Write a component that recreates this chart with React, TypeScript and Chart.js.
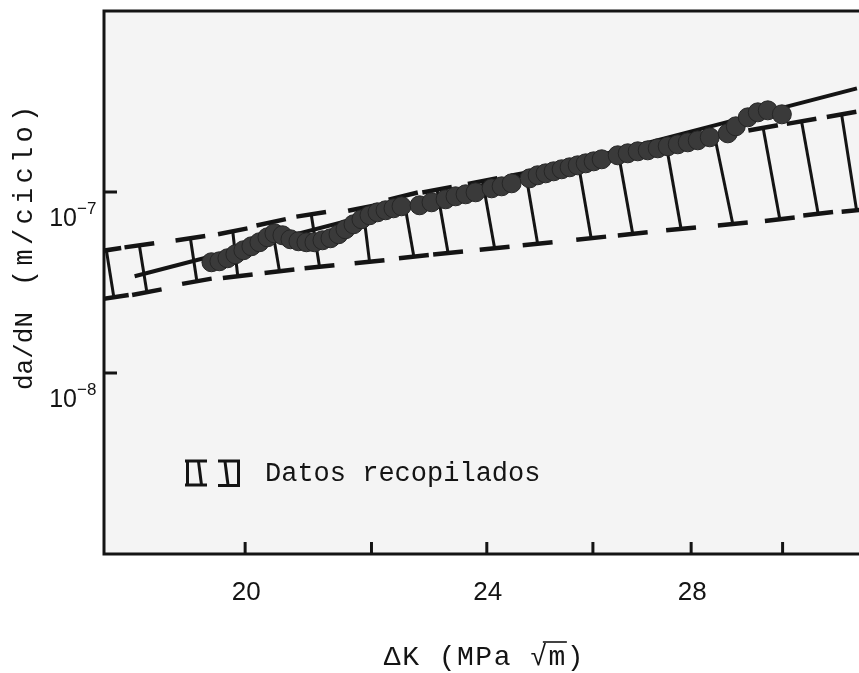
import React, { useEffect, useRef } from 'react';
import { Chart, registerables } from 'chart.js';

Chart.register(...registerables);

// ---- data ----
const dotK = [
  19.498, 19.616, 19.735, 19.854, 19.974, 20.095, 20.217, 20.34, 20.447, 20.571,
  20.696, 20.821, 20.947, 21.074, 21.202, 21.33, 21.46, 21.573, 21.704, 21.835,
  21.968, 22.101, 22.235, 22.369, 22.505, 22.813, 23.02, 23.265, 23.441, 23.619,
  23.798, 24.087, 24.27, 24.454, 24.788, 24.938, 25.089, 25.241, 25.394, 25.548,
  25.703, 25.859, 26.015, 26.173, 26.491, 26.692, 26.894, 27.098, 27.303, 27.51,
  27.719, 27.929, 28.14, 28.396, 28.785, 28.959, 29.223, 29.444, 29.667, 29.983,
];
const dotRate = [
  4.091e-8, 4.143e-8, 4.304e-8, 4.529e-8, 4.765e-8, 5.014e-8, 5.276e-8, 5.622e-8, 5.915e-8, 5.767e-8,
  5.481e-8, 5.343e-8, 5.276e-8, 5.276e-8, 5.411e-8, 5.551e-8, 5.841e-8, 6.224e-8, 6.632e-8, 7.068e-8,
  7.436e-8, 7.725e-8, 7.924e-8, 8.129e-8, 8.338e-8, 8.444e-8, 8.773e-8, 9.114e-8, 9.468e-8, 9.712e-8,
  9.962e-8, 1.048e-7, 1.075e-7, 1.117e-7, 1.19e-7, 1.237e-7, 1.268e-7, 1.301e-7, 1.335e-7, 1.369e-7,
  1.404e-7, 1.44e-7, 1.477e-7, 1.516e-7, 1.595e-7, 1.636e-7, 1.678e-7, 1.699e-7, 1.743e-7, 1.788e-7,
  1.834e-7, 1.881e-7, 1.93e-7, 2.005e-7, 2.109e-7, 2.306e-7, 2.585e-7, 2.755e-7, 2.826e-7, 2.686e-7,
];

const fitK = [18.4, 31.73];
const fitRate = [3.424e-8, 3.737e-7];

// "Datos recopilados": scatter band, top end and bottom end of each bar
const barTopK = [
  18.012, 18.466, 19.191, 19.814, 20.396, 21.022, 21.857, 22.534, 23.116,
  23.924, 24.713, 25.713, 26.511, 27.483, 28.504, 29.562, 30.432, 31.365,
];
const barBottomK = [
  18.114, 18.571, 19.285, 19.889, 20.525, 21.154, 21.968, 22.715, 23.309,
  24.142, 24.938, 25.966, 26.793, 27.788, 28.894, 29.937, 30.816, 31.722,
];
const barHigh = [
  4.765e-8, 5.078e-8, 5.551e-8, 6.068e-8, 6.803e-8, 7.532e-8, 8.18e-8, 9.492e-8, 1.03e-7,
  1.149e-7, 1.275e-7, 1.448e-7, 1.595e-7, 1.79e-7, 2.012e-7, 2.262e-7, 2.457e-7, 2.686e-7,
];
const barLow = [
  2.622e-8, 2.794e-8, 3.213e-8, 3.424e-8, 3.649e-8, 3.863e-8, 4.117e-8, 4.393e-8, 4.599e-8,
  4.888e-8, 5.176e-8, 5.558e-8, 5.87e-8, 6.256e-8, 6.658e-8, 7.068e-8, 7.58e-8, 7.924e-8,
];

const xTicks = [20, 22, 24, 26, 28, 30];
const xTickLabels = [20, 24, 28];
const yTicks = [1e-7, 1e-8];
const yTickExponents = ['\u22127', '\u22128'];

const X_MIN = 17.98;
const X_MAX = 31.78;
const Y_MIN = 1e-9;
const Y_MAX = 1e-6;

const INK = '#141414';
const MONO = '"Liberation Mono", "DejaVu Sans Mono", monospace';
const SANS = '"Liberation Sans", Arial, sans-serif';

const BAR_START = 2;

const figurePlugin = {
  id: 'figurePlugin',
  beforeDraw(chart: any) {
    const { ctx, chartArea: ca, width, height } = chart;
    ctx.save();
    ctx.fillStyle = '#ffffff';
    ctx.fillRect(0, 0, width, height);
    ctx.fillStyle = '#f4f4f4';
    ctx.fillRect(ca.left, ca.top, ca.right - ca.left, ca.bottom - ca.top);
    ctx.restore();
  },
  beforeDatasetsDraw(chart: any) {
    const { ctx, chartArea: ca } = chart;
    const tops: any[] = [];
    const bots: any[] = [];
    for (let i = 0; i < barTopK.length; i++) {
      const meta = chart.getDatasetMeta(BAR_START + i);
      tops.push(meta.data[0]);
      bots.push(meta.data[1]);
    }
    ctx.save();
    ctx.beginPath();
    ctx.rect(ca.left, ca.top, ca.right - ca.left, ca.bottom - ca.top);
    ctx.clip();
    ctx.strokeStyle = INK;
    ctx.lineWidth = 4.5;
    const CAP = 15;
    const caps = (pts: any[]) => {
      pts.forEach((p, i) => {
        const a = pts[Math.max(0, i - 1)];
        const b = pts[Math.min(pts.length - 1, i + 1)];
        let dx = b.x - a.x;
        let dy = b.y - a.y;
        const len = Math.hypot(dx, dy) || 1;
        dx /= len;
        dy /= len;
        ctx.beginPath();
        ctx.moveTo(p.x - dx * CAP, p.y - dy * CAP);
        ctx.lineTo(p.x + dx * CAP, p.y + dy * CAP);
        ctx.stroke();
      });
    };
    caps(tops);
    caps(bots);
    ctx.restore();
  },
  afterDraw(chart: any) {
    const { ctx, chartArea: ca } = chart;
    const xs = chart.scales.x;
    const ys = chart.scales.y;
    ctx.save();
    ctx.strokeStyle = INK;
    ctx.fillStyle = INK;
    ctx.lineCap = 'butt';

    // frame: top, left, bottom
    ctx.lineWidth = 3;
    ctx.beginPath();
    ctx.moveTo(ca.right + 2, ca.top);
    ctx.lineTo(ca.left, ca.top);
    ctx.lineTo(ca.left, ca.bottom);
    ctx.lineTo(ca.right + 2, ca.bottom);
    ctx.stroke();

    // x ticks (inward)
    ctx.lineWidth = 3;
    xTicks.forEach((v) => {
      const px = xs.getPixelForValue(v);
      ctx.beginPath();
      ctx.moveTo(px, ca.bottom);
      ctx.lineTo(px, ca.bottom - 12);
      ctx.stroke();
    });
    // y ticks (inward)
    yTicks.forEach((v) => {
      const py = ys.getPixelForValue(v);
      ctx.beginPath();
      ctx.moveTo(ca.left, py);
      ctx.lineTo(ca.left + 13, py);
      ctx.stroke();
    });

    // x tick labels
    ctx.font = `26px ${SANS}`;
    ctx.textAlign = 'center';
    ctx.textBaseline = 'alphabetic';
    xTickLabels.forEach((v) => {
      const px = xs.getPixelForValue(v);
      ctx.fillText(String(v), px + 1, ca.bottom + 46);
    });

    // y tick labels 10^-n
    yTicks.forEach((v, i) => {
      const py = ys.getPixelForValue(v);
      ctx.font = `25px ${SANS}`;
      ctx.textAlign = 'right';
      ctx.fillText('10', ca.left - 27, py + 34);
      ctx.font = `17px ${SANS}`;
      ctx.textAlign = 'left';
      ctx.fillText(yTickExponents[i], ca.left - 27, py + 22);
    });

    // x axis title with overline on the root
    ctx.font = `28px ${MONO}`;
    ctx.textAlign = 'left';
    const title = 'ΔK (MPa √m)';
    const spacing = 1.5;
    const widthOf = (s: string) => ctx.measureText(s).width + spacing * s.length;
    const tw = widthOf(title);
    const cx = (ca.left + ca.right) / 2 + 3;
    const tx = cx - tw / 2;
    const ty = ca.bottom + 111;
    let cursor = tx;
    for (const ch of title) {
      ctx.fillText(ch, cursor, ty);
      cursor += ctx.measureText(ch).width + spacing;
    }
    const pre = widthOf('ΔK (MPa ');
    const rootW = ctx.measureText('√').width;
    const endW = widthOf('ΔK (MPa √m');
    ctx.lineWidth = 1.6;
    ctx.beginPath();
    ctx.moveTo(tx + pre + rootW * 0.75, ty - 23);
    ctx.lineTo(tx + endW, ty - 23);
    ctx.stroke();

    // y axis title (rotated)
    ctx.save();
    ctx.translate(32, 390);
    ctx.rotate(-Math.PI / 2);
    ctx.font = `26px ${MONO}`;
    ctx.textAlign = 'left';
    ctx.fillText('da/dN', 0, 0);
    const unit = '(m/ciclo)';
    const step = 20.5;
    ctx.font = `27px ${MONO}`;
    for (let i = 0; i < unit.length; i++) {
      ctx.textAlign = 'center';
      ctx.fillText(unit[i], 112 + i * step, 0);
    }
    ctx.restore();

    // legend glyph
    const lx = ca.left + 81;
    const ly = ca.bottom - 94;
    ctx.lineWidth = 3;
    const seg = (x1: number, y1: number, x2: number, y2: number) => {
      ctx.beginPath();
      ctx.moveTo(x1, y1);
      ctx.lineTo(x2, y2);
      ctx.stroke();
    };
    seg(lx + 2.5, ly, lx + 2.5, ly + 26);
    seg(lx, ly + 1, lx + 22, ly + 1);
    seg(lx, ly + 25, lx + 22, ly + 25);
    seg(lx + 13.5, ly + 1.5, lx + 16.5, ly + 25);
    seg(lx + 33, ly + 1, lx + 55, ly + 1);
    seg(lx + 33, ly + 25.5, lx + 55, ly + 25.5);
    seg(lx + 40, ly + 1.5, lx + 43, ly + 25);
    seg(lx + 53.5, ly, lx + 53.5, ly + 26.5);

    ctx.font = `27px ${MONO}`;
    ctx.textAlign = 'left';
    ctx.fillText('Datos recopilados', lx + 80, ly + 20.5);

    ctx.restore();
  },
};

export default function App() {
  const canvasRef = useRef<HTMLCanvasElement | null>(null);

  useEffect(() => {
    const canvas = canvasRef.current;
    if (!canvas) return;

    const datasets: any[] = [
      {
        label: 'da/dN',
        data: dotK.map((k, i) => ({ x: k, y: dotRate[i] })),
        pointRadius: 9.5,
        pointBackgroundColor: '#3a3a3a',
        pointBorderColor: '#262626',
        pointBorderWidth: 1,
        showLine: false,
      },
      {
        label: 'ajuste',
        data: fitK.map((k, i) => ({ x: k, y: fitRate[i] })),
        showLine: true,
        borderColor: INK,
        borderWidth: 4,
        pointRadius: 0,
        fill: false,
      },
      ...barTopK.map((k, i) => ({
        label: 'Datos recopilados',
        data: [
          { x: k, y: barHigh[i] },
          { x: barBottomK[i], y: barLow[i] },
        ],
        showLine: true,
        borderColor: INK,
        borderWidth: 3,
        pointRadius: 0,
        fill: false,
      })),
    ];

    const chart = new Chart(canvas, {
      type: 'scatter',
      data: { datasets },
      options: {
        animation: false,
        responsive: false,
        maintainAspectRatio: false,
        events: [],
        layout: { autoPadding: false, padding: { top: 11, right: 0, bottom: 0, left: 0 } },
        plugins: {
          legend: { display: false },
          tooltip: { enabled: false },
          title: { display: false },
        },
        scales: {
          x: {
            type: 'logarithmic',
            min: X_MIN,
            max: X_MAX,
            bounds: 'data',
            grid: { display: false },
            border: { display: false },
            ticks: { display: false },
            afterFit: (scale: any) => {
              scale.height = 119;
            },
          },
          y: {
            type: 'logarithmic',
            min: Y_MIN,
            max: Y_MAX,
            bounds: 'data',
            grid: { display: false },
            border: { display: false },
            ticks: { display: false },
            afterFit: (scale: any) => {
              scale.width = 104;
            },
          },
        },
      } as any,
      plugins: [figurePlugin],
    });

    return () => chart.destroy();
  }, []);

  return (
    <div style={{ position: 'fixed', left: 0, top: 0, width: 859, height: 673, background: '#fff' }}>
      <canvas ref={canvasRef} width={859} height={673} style={{ display: 'block', width: 859, height: 673 }} />
    </div>
  );
}
